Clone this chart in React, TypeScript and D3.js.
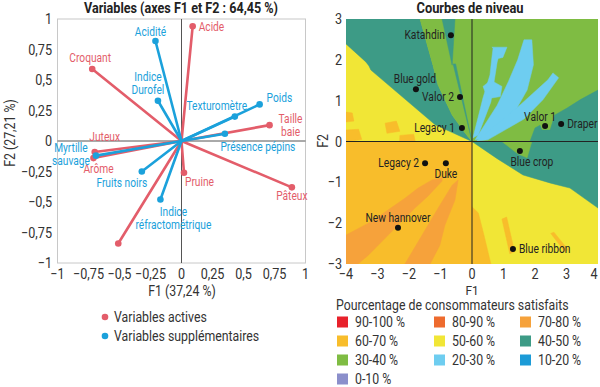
import React from "react";
import * as d3 from "d3";

// ---------- Left chart: variable loadings ----------
const activeNames = ["Acide", "Croquant", "Taille\nbaie", "Juteux", "Arôme", "Pruine", "Pâteux", ""];
const activeF1 = [0.09, -0.72, 0.71, -0.70, -0.71, 0.02, 0.89, -0.51];
const activeF2 = [0.94, 0.59, 0.13, -0.09, -0.14, -0.26, -0.38, -0.84];

const suppNames = ["Acidité", "Indice\nDurofel", "Poids", "Texturomètre", "Présence pépins", "Myrtille\nsauvage", "Fruits noirs", "Indice\nréfractométrique"];
const suppF1 = [-0.21, -0.19, 0.63, 0.43, 0.35, -0.69, -0.32, -0.17];
const suppF2 = [0.82, 0.33, 0.30, 0.20, 0.06, -0.12, -0.25, -0.48];

const loadingTicks = [-1, -0.75, -0.5, -0.25, 0, 0.25, 0.5, 0.75, 1];

// label placement (layout only)
const activeLabelPos = [
  { dx: 6, dy: 5, a: "start" },
  { dx: -2, dy: -7, a: "middle" },
  { dx: 21, dy: -2, a: "middle" },
  { dx: 10, dy: -11, a: "middle" },
  { dx: 5, dy: 15, a: "middle" },
  { dx: 1, dy: 13, a: "start" },
  { dx: 0, dy: 13, a: "middle" },
  { dx: 0, dy: 0, a: "middle" },
];
const suppLabelPos = [
  { dx: -5, dy: -5, a: "middle" },
  { dx: -10, dy: -20, a: "middle" },
  { dx: 7, dy: -2, a: "start" },
  { dx: -18, dy: -7, a: "middle" },
  { dx: 33, dy: 17, a: "middle" },
  { dx: -25, dy: -4, a: "middle" },
  { dx: -20, dy: 15, a: "middle" },
  { dx: 13, dy: 16, a: "middle" },
];

// ---------- Right chart: cultivars + level regions ----------
const cultivars = ["Katahdin", "Blue gold", "Valor 2", "Legacy 1", "Valor 1", "Draper", "Blue crop", "Legacy 2", "Duke", "New hannover", "Blue ribbon"];
const cultF1 = [-0.67, -1.78, -0.38, -0.32, 2.32, 2.83, 1.52, -1.49, -0.83, -2.35, 1.30];
const cultF2 = [2.6, 1.28, 1.09, 0.33, 0.38, 0.43, -0.23, -0.53, -0.53, -2.11, -2.63];
const cultLabelPos = [
  { dx: -6, dy: 4, a: "end" },
  { dx: -1, dy: -6, a: "middle" },
  { dx: -6, dy: 4, a: "end" },
  { dx: -7, dy: 4, a: "end" },
  { dx: -5, dy: -5, a: "middle" },
  { dx: 6, dy: 4, a: "start" },
  { dx: 12, dy: 15, a: "middle" },
  { dx: -6, dy: 4, a: "end" },
  { dx: 0, dy: 15, a: "middle" },
  { dx: 0, dy: -6, a: "middle" },
  { dx: 6, dy: 4, a: "start" },
];

const f1Ticks = [-4, -3, -2, -1, 0, 1, 2, 3, 4];
const f2Ticks = [-3, -2, -1, 0, 1, 2, 3];

const levelNames = ["90-100 %", "80-90 %", "70-80 %", "60-70 %", "50-60 %", "40-50 %", "30-40 %", "20-30 %", "10-20 %", "0-10 %"];
const levelColors = ["#e8212b", "#ee6b2e", "#f6a23b", "#f8bd2b", "#f1e636", "#3d9b86", "#7fbc43", "#6ecdf0", "#1c9bd7", "#8b8fcb"];

// level regions, in (F1, F2) units; level index into levelNames
const regYellowBase = [[-4, 3], [4, 3], [4, -3], [-4, -3]];
const regAmberLL = [[-4, 0], [0, 0], [0, -3], [-4, -3]];
const regAmberAxis = [[0, -1.6], [0.2, -1.75], [0.35, -2.2], [0.6, -3], [0, -3]];
const regAmberStreak1 = [[0.95, -1.9], [1.1, -1.85], [1.35, -2.7], [1.2, -2.75]];
const regAmberStreak2 = [[2.5, -2.25], [2.6, -2.22], [3.05, -2.65], [2.95, -2.7]];
const regAmberBlob1 = [[-4, 0.72], [-3.8, 0.7], [-3.75, 0.5], [-4, 0.48]];
const regAmberBlob2 = [[-2.76, 0.45], [-2.4, 0.5], [-2.29, 0.25], [-2.7, 0.2]];
const regAmberBlob3 = [[-4, 0.28], [-3.6, 0.3], [-3.5, 0.05], [-4, 0]];
const regAmberBlob4 = [[-2.29, 0.15], [-1.85, 0.18], [-1.8, 0], [-2.3, 0]];
const regOrange1 = [[-4, -2.29], [-3.17, -1.95], [-2.67, -1.68], [-2.13, -1.39], [-1.71, -1.14], [-1.27, -0.94], [-0.95, -0.89], [-0.95, -0.97], [-1.4, -1.34], [-1.81, -1.63], [-2.35, -2.05], [-2.76, -2.37], [-3.3, -2.79], [-3.62, -3], [-4, -3]];
const regOrange2 = [[-2.13, -3], [-1.49, -2.17], [-1.02, -1.56], [-0.63, -1.07], [-0.44, -0.94], [-0.54, -1.43], [-0.86, -2.05], [-1.02, -2.54], [-1.33, -3]];
const regTealUL = [[-4, 3], [-1.65, 3], [-1.24, 1.87], [-1.08, 1.39], [-0.86, 1.02], [-0.63, 0.65], [-0.22, 0.21], [0, 0], [-1.17, 0.41], [-3.21, 1.75], [-3.27, 1.85], [-3.37, 1.95], [-4, 2.39]];
const regGreenUp = [[-1.65, 3], [4, 3], [4, 0], [0, 0], [-0.22, 0.21], [-0.63, 0.65], [-0.86, 1.02], [-1.08, 1.39], [-1.24, 1.87]];
const regTealSliver1 = [[-0.95, 3], [-0.54, 3], [-0.63, 1.87]];
const regTealSliver2 = [[-0.6, 1.9], [-0.52, 1.9], [0, 0]];
const regTealUR = [[1.84, 0], [2.0, 0.33], [2.16, 0.4], [2.22, 0.28], [2.48, 0.28], [2.63, 0.65], [3.02, 0.82], [3.43, 1.02], [4, 1.26], [4, 0]];
const regTealLR = [[0, 0], [4, 0], [4, -1.63], [3.11, -1.14], [2.5, -1.02], [1.62, -0.82], [0.8, -0.42]];
const regGreenCrop = [[0.95, 0], [1.9, 0], [1.75, -0.4], [1.45, -0.3]];
const regBlue1 = [[0.03, 0.09], [0.35, 1.07], [0.57, 1.63], [0.63, 2.05], [0.67, 2.29], [0.63, 2.31], [1.11, 2.31], [0.98, 2.06], [0.83, 2.03], [0.8, 1.95], [0.6, 0.97], [0.2, 0.16]];
const regBlue2 = [[0.1, 0.04], [0.8, 0.89], [1.15, 1.46], [1.45, 2.0], [1.65, 2.49], [1.9, 2.49], [1.95, 1.88], [1.75, 1.26], [1.3, 0.65], [0.35, 0.06]];
const regBlue3 = [[0.15, 0.01], [1.52, 0.89], [2.41, 1.51], [2.57, 1.68], [2.75, 1.56], [2.25, 1.02], [1.65, 0.55], [0.5, 0.04]];
const regBlueBlob = [[0.35, 1.35], [0.6, 1.5], [0.95, 1.35], [0.9, 1.1], [0.5, 1.05]];

const regions: [number, number[][]][] = [
  [4, regYellowBase],
  [3, regAmberLL], [3, regAmberAxis], [3, regAmberStreak1], [3, regAmberStreak2],
  [3, regAmberBlob1], [3, regAmberBlob2], [3, regAmberBlob3], [3, regAmberBlob4],
  [2, regOrange1], [2, regOrange2],
  [5, regTealUL], [6, regGreenUp], [5, regTealSliver1], [5, regTealSliver2],
  [5, regTealUR], [5, regTealLR], [6, regGreenCrop],
  [7, regBlue1], [7, regBlue2], [7, regBlue3], [7, regBlueBlob],
];

const RED = "#e35d6a";
const BLUE = "#1ba1db";
const FONT = "Roboto, 'Open Sans', sans-serif";

const xL = d3.scaleLinear().domain([-1, 1]).range([57.5, 305.5]);
const yL = d3.scaleLinear().domain([-1, 1]).range([263, 19]);
const xR = d3.scaleLinear().domain([-4, 4]).range([346, 598]);
const yR = d3.scaleLinear().domain([-3, 3]).range([264, 19]);

const fmt = (v: number) => String(v).replace(".", ",").replace("-", "\u2212");

function T({ x, y, children, size = 12.5, sx = 0.82, anchor = "start", fill = "#333", weight = "normal", rotate = 0, dy = "0" }: any) {
  return (
    <text
      transform={`translate(${x},${y})${rotate ? ` rotate(${rotate})` : ""} scale(${sx},1)`}
      fontSize={size}
      textAnchor={anchor}
      fill={fill}
      fontWeight={weight}
      fontFamily={FONT}
      dy={dy}
    >
      {children}
    </text>
  );
}

function VarGroup({ names, f1, f2, pos, color }: any) {
  const line = d3.line<number[]>().x((d) => xL(d[0])).y((d) => yL(d[1]));
  return (
    <g>
      {names.map((n: string, i: number) => (
        <path key={"l" + i} d={line([[0, 0], [f1[i], f2[i]]]) || ""} stroke={color} strokeWidth={2.6} fill="none" strokeLinecap="round" />
      ))}
      {names.map((n: string, i: number) => (
        <circle key={"c" + i} cx={xL(f1[i])} cy={yL(f2[i])} r={3.3} fill={color} />
      ))}
      {names.map((n: string, i: number) =>
        n.split("\n").map((ln, j) => (
          <T key={"t" + i + "_" + j} x={xL(f1[i]) + pos[i].dx} y={yL(f2[i]) + pos[i].dy + j * 13} anchor={pos[i].a} fill={color} size={12} sx={0.85}>
            {ln}
          </T>
        ))
      )}
    </g>
  );
}

export default function App() {
  const poly = d3.line<number[]>().x((d) => xR(d[0])).y((d) => yR(d[1]));
  return (
    <svg width={600} height={387} style={{ position: "absolute", left: 0, top: 0, background: "#fff" }}>
      <defs>
        <clipPath id="rclip">
          <rect x={xR(-4)} y={yR(3)} width={xR(4) - xR(-4)} height={yR(-3) - yR(3)} />
        </clipPath>
      </defs>

      {/* ---------- LEFT CHART ---------- */}
      <T x={181} y={8} anchor="middle" size={14} sx={0.9} weight="bold" fill="#222" dy="0.35em">
        Variables (axes F1 et F2 : 64,45 %)
      </T>
      <rect x={xL(-1)} y={yL(1)} width={xL(1) - xL(-1)} height={yL(-1) - yL(1)} fill="none" stroke="#c8c8c8" strokeWidth={1} />
      <line x1={xL(-1)} x2={xL(1)} y1={yL(0)} y2={yL(0)} stroke="#555" strokeWidth={1} />
      <line x1={xL(0)} x2={xL(0)} y1={yL(1)} y2={yL(-1)} stroke="#555" strokeWidth={1} />
      {loadingTicks.map((t) => (
        <T key={"ly" + t} x={52} y={yL(t)} anchor="end" size={14.5} sx={0.87} dy="0.35em">
          {fmt(t)}
        </T>
      ))}
      {loadingTicks.map((t) => (
        <T key={"lx" + t} x={xL(t)} y={274} anchor="middle" size={14.5} sx={0.87} dy="0.35em">
          {fmt(t)}
        </T>
      ))}
      <T x={182} y={291} anchor="middle" size={14} sx={0.88} dy="0.35em">F1 (37,24 %)</T>
      <T x={10} y={133} anchor="middle" size={14} sx={0.88} rotate={-90} dy="0.35em">F2 (27,21 %)</T>

      <VarGroup names={activeNames} f1={activeF1} f2={activeF2} pos={activeLabelPos} color={RED} />
      <VarGroup names={suppNames} f1={suppF1} f2={suppF2} pos={suppLabelPos} color={BLUE} />

      <circle cx={105} cy={317} r={3.3} fill={RED} />
      <T x={114} y={317} size={14} sx={0.88} dy="0.35em">Variables actives</T>
      <circle cx={105} cy={336} r={3.3} fill={BLUE} />
      <T x={114} y={336} size={14} sx={0.88} dy="0.35em">Variables supplémentaires</T>

      {/* ---------- RIGHT CHART ---------- */}
      <T x={470} y={8} anchor="middle" size={14} sx={0.92} weight="bold" fill="#222" dy="0.35em">
        Courbes de niveau
      </T>
      <g clipPath="url(#rclip)">
        {regions.map(([lvl, pts], i) => (
          <path key={"r" + i} d={(poly(pts) || "") + "Z"} fill={levelColors[lvl]} stroke={levelColors[lvl]} strokeWidth={0.5} />
        ))}
      </g>
      <line x1={xR(-4)} x2={xR(4)} y1={yR(0)} y2={yR(0)} stroke="#222" strokeWidth={1} />
      <line x1={xR(0)} x2={xR(0)} y1={yR(3)} y2={yR(-3)} stroke="#222" strokeWidth={1} />
      {f2Ticks.map((t) => (
        <T key={"ry" + t} x={342} y={yR(t)} anchor="end" size={14.5} sx={0.87} dy="0.35em">
          {fmt(t)}
        </T>
      ))}
      {f1Ticks.map((t) => (
        <T key={"rx" + t} x={Math.min(xR(t), 594)} y={274} anchor="middle" size={14.5} sx={0.87} dy="0.35em">
          {fmt(t)}
        </T>
      ))}
      <T x={472} y={290} anchor="middle" size={13.5} sx={0.88} dy="0.35em">F1</T>
      <T x={323} y={141} anchor="middle" size={14} sx={0.88} rotate={-90} dy="0.35em">F2</T>

      {cultivars.map((c, i) => (
        <g key={"cv" + i}>
          <circle cx={xR(cultF1[i])} cy={yR(cultF2[i])} r={3} fill="#111" />
          <T x={xR(cultF1[i]) + cultLabelPos[i].dx} y={yR(cultF2[i]) + cultLabelPos[i].dy} anchor={cultLabelPos[i].a} size={12.5} sx={0.82} fill="#222">
            {c}
          </T>
        </g>
      ))}

      <T x={336} y={305} size={14} sx={0.88} dy="0.35em">Pourcentage de consommateurs satisfaits</T>
      {levelNames.map((n, i) => {
        const col = i % 3;
        const row = Math.floor(i / 3);
        const sxPos = [337, 434, 520][col];
        const cy = 322 + row * 19;
        return (
          <g key={"lg" + i}>
            <rect x={sxPos} y={cy - 5.5} width={11} height={11} fill={levelColors[i]} />
            <T x={sxPos + 18} y={cy} size={14} sx={0.88} dy="0.35em">{n}</T>
          </g>
        );
      })}
    </svg>
  );
}
